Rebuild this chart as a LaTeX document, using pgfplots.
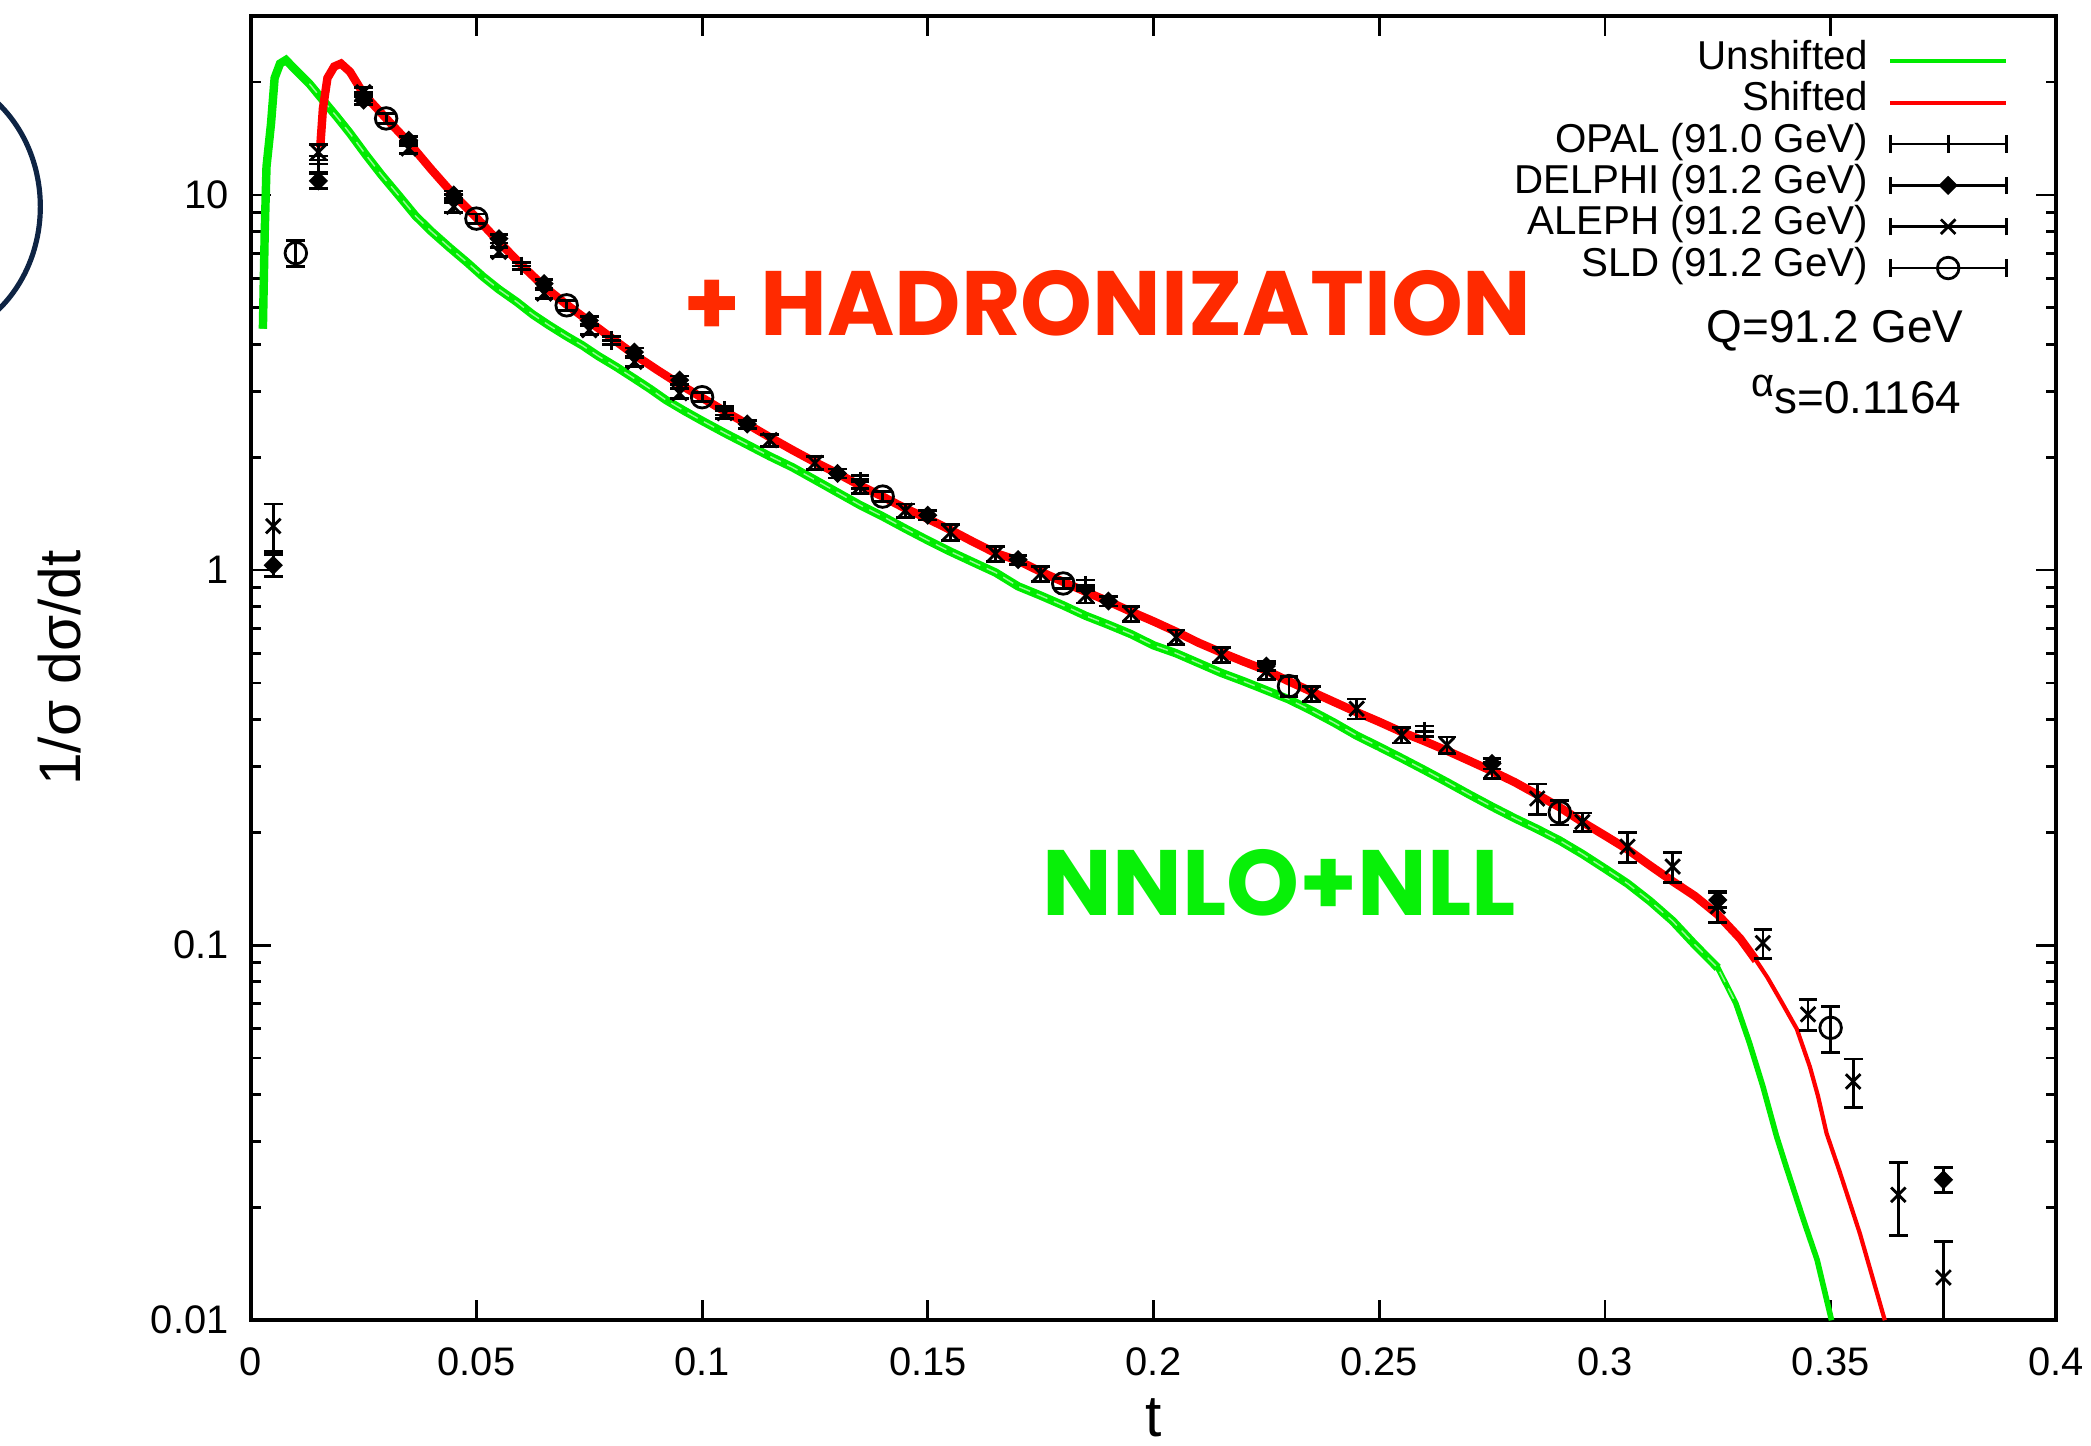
\documentclass[border=0pt]{standalone}
\usepackage{pgfplots}
\pgfplotsset{compat=1.18}
\usepackage{pgfplotstable}
\usepackage{fontspec}
\setmainfont{Liberation Sans}
\newfontfamily\popfont{Poppins}

\definecolor{gpgreen}{RGB}{0,235,0}
\definecolor{gpred}{RGB}{255,0,0}
\definecolor{hadred}{RGB}{255,42,0}
\definecolor{nllgreen}{RGB}{8,240,8}
\definecolor{navyarc}{RGB}{14,36,68}

\pgfplotstableread{
t y
0.0027 4.4
0.0031 7.9
0.0035 11.9
0.0045 15.5
0.0053 20.5
0.0065 22.4
0.0078 22.9
0.0100 21.5
0.0130 19.8
0.0160 17.9
0.0190 16.2
0.0220 14.6
0.0255 12.8
0.0290 11.3
0.0330 9.9
0.0365 8.8
0.0400 8.0
0.0440 7.25
0.0480 6.6
0.0515 6.05
0.0550 5.6
0.0590 5.18
0.0625 4.8
0.0660 4.5
0.0700 4.2
0.0735 3.97
0.0770 3.72
0.0810 3.48
0.0850 3.24
0.0885 3.04
0.0920 2.84
0.0960 2.66
0.1000 2.50
0.1050 2.32
0.1100 2.16
0.1150 2.01
0.1200 1.88
0.1250 1.74
0.1300 1.61
0.1350 1.49
0.1400 1.39
0.1450 1.29
0.1500 1.20
0.1550 1.12
0.1600 1.05
0.1650 0.985
0.1700 0.905
0.1750 0.855
0.1800 0.805
0.1850 0.755
0.1900 0.715
0.1950 0.675
0.2000 0.630
0.2050 0.600
0.2100 0.565
0.2150 0.532
0.2200 0.505
0.2250 0.478
0.2300 0.452
0.2350 0.422
0.2400 0.392
0.2450 0.362
0.2500 0.338
0.2550 0.315
0.2600 0.293
0.2650 0.272
0.2700 0.252
0.2750 0.234
0.2800 0.218
0.2850 0.204
0.2900 0.190
0.2950 0.175
0.3000 0.160
0.3050 0.146
0.3100 0.131
0.3150 0.116
0.3200 0.100
0.3250 0.087
0.3290 0.070
0.3320 0.055
0.3350 0.042
0.3380 0.031
0.3400 0.026
0.3440 0.0185
0.3470 0.0145
0.3502 0.0100
}\unshifted

\pgfplotstableread{
t y
0.0154 13.4
0.0160 17.0
0.0170 20.5
0.0185 22.0
0.0200 22.4
0.0220 21.3
0.0250 18.6
0.0300 16.0
0.0350 13.8
0.0400 11.7
0.0450 10.0
0.0500 8.7
0.0550 7.5
0.0600 6.5
0.0650 5.7
0.0700 5.1
0.0750 4.6
0.0800 4.15
0.0850 3.75
0.0900 3.42
0.0950 3.13
0.1000 2.88
0.1050 2.65
0.1100 2.45
0.1150 2.26
0.1200 2.09
0.1250 1.94
0.1300 1.81
0.1350 1.68
0.1400 1.57
0.1450 1.46
0.1500 1.37
0.1550 1.28
0.1600 1.19
0.1650 1.11
0.1700 1.06
0.1750 0.99
0.1800 0.93
0.1850 0.875
0.1900 0.825
0.1950 0.775
0.2000 0.73
0.2050 0.685
0.2100 0.64
0.2150 0.603
0.2200 0.570
0.2250 0.540
0.2300 0.505
0.2350 0.474
0.2400 0.445
0.2450 0.418
0.2500 0.394
0.2550 0.370
0.2600 0.350
0.2650 0.330
0.2700 0.310
0.2750 0.291
0.2800 0.272
0.2850 0.252
0.2900 0.233
0.2950 0.213
0.3000 0.196
0.3050 0.180
0.3100 0.163
0.3150 0.148
0.3200 0.135
0.3250 0.1206
0.3300 0.104
0.3335 0.091
0.3360 0.082
0.3390 0.071
0.3425 0.0598
0.3454 0.0474
0.3472 0.0396
0.3491 0.0315
0.3520 0.0249
0.3565 0.0170
0.3620 0.0100
}\shifted

\pgfplotstableread{
t y e
0.015 12.1 0.6
0.025 18.3 0.5
0.035 13.9 0.4
0.045 9.8 0.25
0.060 6.47 0.15
0.080 4.10 0.10
0.105 2.66 0.07
0.135 1.72 0.07
0.185 0.911 0.03
0.260 0.372 0.012
}\opal

\pgfplotstableread{
t y e
0.005 1.03 0.07
0.015 10.9 0.5
0.025 17.9 0.5
0.035 14.0 0.35
0.045 10.0 0.25
0.055 7.65 0.2
0.065 5.80 0.15
0.075 4.63 0.12
0.085 3.81 0.1
0.095 3.21 0.08
0.110 2.45 0.06
0.130 1.81 0.05
0.150 1.40 0.04
0.170 1.066 0.03
0.190 0.827 0.025
0.225 0.555 0.015
0.275 0.305 0.01
0.325 0.132 0.006
0.375 0.0237 0.0018
}\delphi

\pgfplotstableread{
t y e
0.005 1.31 0.19
0.015 13.0 0.6
0.025 18.8 0.5
0.035 13.3 0.4
0.045 9.3 0.3
0.055 7.05 0.2
0.065 5.46 0.15
0.075 4.36 0.12
0.085 3.59 0.1
0.095 2.96 0.09
0.105 2.62 0.08
0.115 2.22 0.08
0.125 1.93 0.08
0.135 1.67 0.07
0.145 1.44 0.06
0.155 1.26 0.06
0.165 1.106 0.05
0.175 0.979 0.045
0.185 0.857 0.04
0.195 0.765 0.035
0.205 0.662 0.03
0.215 0.594 0.027
0.225 0.537 0.025
0.235 0.468 0.022
0.245 0.427 0.026
0.255 0.363 0.017
0.265 0.342 0.017
0.275 0.293 0.015
0.285 0.246 0.023
0.295 0.213 0.012
0.305 0.183 0.017
0.315 0.162 0.015
0.325 0.127 0.012
0.335 0.1013 0.009
0.345 0.0654 0.0062
0.355 0.0433 0.0064
0.365 0.0216 0.0048
0.375 0.0130 0.0032
}\aleph

\pgfplotstableread{
t y e
0.01 7.0 0.55
0.03 16.0 0.5
0.05 8.65 0.25
0.07 5.08 0.15
0.10 2.89 0.08
0.14 1.57 0.05
0.18 0.921 0.03
0.23 0.4905 0.03
0.29 0.226 0.017
0.35 0.0602 0.0085
}\sld

\pgfplotsset{
  lineleg/.style={legend image code/.code={
      \draw[line width=0.9pt] (0mm,0mm) -- (8.7mm,0mm);}},
  errleg/.style={legend image code/.code={
      \draw[black, line width=0.6pt] (0mm,0mm) -- (8.7mm,0mm);
      \draw[black, line width=0.6pt] (0mm,-0.65mm) -- (0mm,0.65mm);
      \draw[black, line width=0.6pt] (8.7mm,-0.65mm) -- (8.7mm,0.65mm);
      \draw[black, mark repeat=2, mark phase=2] plot coordinates {(0mm,0mm) (4.35mm,0mm) (8.7mm,0mm)};}},
  dataset/.style={only marks, black, errleg,
      error bars/y dir=both, error bars/y explicit,
      error bars/error bar style={line width=0.6pt, black},
      error bars/error mark options={rotate=90, mark size=2pt, line width=0.6pt, black}},
}

\begin{document}
\begin{tikzpicture}
\useasboundingbox (-18.8mm,-9.4mm) rectangle (138.0mm,99.0mm);
\begin{axis}[
  scale only axis, width=135.4mm, height=97.8mm,
  at={(0,0)}, anchor=south west,
  xmin=0, xmax=0.4, ymin=0.01, ymax=30, ymode=log,
  xtick={0,0.05,0.1,0.15,0.2,0.25,0.3,0.35,0.4},
  xticklabels={0,0.05,0.1,0.15,0.2,0.25,0.3,0.35,0.4},
  ytick={0.01,0.1,1,10}, yticklabels={0.01,0.1,1,10},
  minor ytick={0.02,0.03,0.04,0.05,0.06,0.07,0.08,0.09,0.2,0.3,0.4,0.5,0.6,0.7,0.8,0.9,2,3,4,5,6,7,8,9,20},
  minor x tick num=0,
  tick align=inside,
  major tick length=1.5mm, minor tick length=0.75mm,
  tick style={black, line width=0.6pt},
  axis line style={black, line width=0.9pt},
  ticklabel style={font=\fontsize{8.5}{10}\selectfont},
  xticklabel style={inner sep=0pt, yshift=-2mm},
  yticklabel style={inner sep=0pt, xshift=-1.6mm},
  xlabel={t}, ylabel={1/σ dσ/dt},
  every axis x label/.style={at={(rel axis cs:0.5,-0.0746)}, anchor=center, font=\fontsize{12.5}{14}\selectfont},
  every axis y label/.style={at={(rel axis cs:-0.1056,0.5)}, anchor=center, rotate=90, font=\fontsize{12.5}{14}\selectfont},
  legend style={at={(rel axis cs:0.9734,0.9811)}, anchor=north east,
    draw=none, fill=none, inner sep=0pt, outer sep=0pt,
    font=\fontsize{8.6}{10}\selectfont,
    nodes={inner sep=0pt, text height=2.15mm, text depth=0.95mm},
    row sep=0pt,
    /tikz/every odd column/.append style={column sep=1.5mm}},
  legend cell align=right,
  legend plot pos=right,
]
\addplot[gpgreen, line width=1.2pt, lineleg] table[x=t,y=y] {\unshifted};
\addplot[forget plot, gpgreen, line width=1.8pt, restrict x to domain=0:0.326] table[x=t,y=y] {\unshifted};
\addplot[forget plot, white, opacity=0.6, line width=0.3pt, dash pattern=on 2.5pt off 1.5pt, restrict x to domain=0.012:0.33] table[x=t,y=y] {\unshifted};
\addplot[gpred, line width=0.9pt, lineleg] table[x=t,y=y] {\shifted};
\addplot[forget plot, gpred, line width=1.8pt, restrict x to domain=0:0.334] table[x=t,y=y] {\shifted};

\addplot[dataset, mark=+, mark size=2pt, mark options={line width=0.6pt}] table[x=t,y=y,y error=e] {\opal};
\addplot[dataset, mark=square*, mark size=1.25pt, mark options={rotate=45, line width=0.4pt}] table[x=t,y=y,y error=e] {\delphi};
\addplot[dataset, mark=x, mark size=2.2pt, mark options={line width=0.6pt}] table[x=t,y=y,y error=e] {\aleph};
\addplot[dataset, mark=o, mark size=2.3pt, mark options={line width=0.6pt}] table[x=t,y=y,y error=e] {\sld};

\legend{Unshifted, Shifted, OPAL (91.0 GeV), DELPHI (91.2 GeV), ALEPH (91.2 GeV), SLD (91.2 GeV)}

\node[anchor=east, inner sep=0pt, font=\fontsize{9.8}{11}\selectfont] at (rel axis cs:0.949,0.7587) {Q=91.2 GeV};
\node[anchor=east, inner sep=0pt, font=\fontsize{9.8}{11}\selectfont] at (rel axis cs:0.948,0.7096) {\raisebox{1.25mm}{\fontsize{8.5}{8}\selectfont α}s=0.1164};

\node[anchor=base west, inner sep=0pt, text=hadred, font=\popfont\bfseries\fontsize{19.5}{22}\selectfont] at (rel axis cs:0.2393,0.7554) {+ HADRONIZATION};
\node[anchor=base west, inner sep=0pt, text=nllgreen, font=\popfont\bfseries\fontsize{19.8}{22}\selectfont] at (rel axis cs:0.4380,0.3106) {NNLO+NLL};
\end{axis}
\draw[navyarc, line width=1.1pt] (-19.0mm,91.3mm) .. controls (-14.7mm,87.2mm) and (-14.7mm,79.8mm) .. (-19.0mm,75.7mm);
\end{tikzpicture}
\end{document}
